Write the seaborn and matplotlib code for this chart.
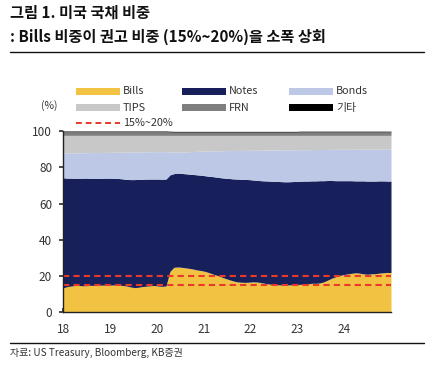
import numpy as np
import pandas as pd
import matplotlib
matplotlib.use("Agg")
import matplotlib.pyplot as plt
from matplotlib.patches import Rectangle
from matplotlib.lines import Line2D
import seaborn as sns

# monthly shares (%), Jan 2018 .. Dec 2024
bills = [13.5, 14.2, 14.5, 14.8, 14.8, 14.6, 14.7, 14.9, 14.8, 14.9, 15.0, 15.0,
         15.0, 15.1, 15.0, 14.8, 14.5, 14.0, 13.6, 13.8, 14.2, 14.4, 14.6, 14.8,
         14.5, 14.3, 14.5, 22.5, 24.8, 25.0, 24.8, 24.5, 24.2, 23.8, 23.3, 23.0,
         22.5, 21.8, 21.0, 20.3, 19.5, 18.7, 18.0, 17.3, 16.8, 16.6, 16.5, 16.6,
         16.8, 16.7, 16.4, 16.0, 15.6, 15.3, 15.2, 15.1, 15.0, 15.1, 15.2, 15.3,
         15.4, 15.5, 15.7, 16.0, 16.0, 16.2, 16.8, 17.8, 18.8, 19.6, 20.3, 20.8,
         21.2, 21.5, 21.8, 21.6, 21.2, 21.0, 21.2, 21.3, 21.6, 21.8, 22.0, 21.9]
notes = [60.7, 59.8, 59.5, 59.1, 59.1, 59.4, 59.3, 59.0, 59.0, 58.9, 58.9, 59.0,
         59.0, 58.8, 58.8, 58.8, 58.8, 59.2, 59.6, 59.5, 59.2, 59.1, 58.9, 58.7,
         59.0, 59.1, 59.0, 53.3, 51.7, 51.8, 51.8, 51.9, 52.0, 52.2, 52.5, 52.6,
         52.8, 53.2, 53.8, 54.2, 54.7, 55.3, 55.8, 56.3, 56.7, 56.8, 56.8, 56.6,
         56.2, 56.1, 56.2, 56.5, 56.8, 57.0, 57.0, 57.0, 57.0, 56.9, 56.9, 56.9,
         56.9, 56.9, 56.7, 56.5, 56.5, 56.4, 55.8, 54.9, 53.9, 53.0, 52.3, 51.8,
         51.4, 51.1, 50.7, 50.9, 51.3, 51.4, 51.2, 51.1, 50.9, 50.7, 50.4, 50.5]
bonds = [13.6, 13.8, 13.9, 14.0, 14.1, 14.0, 14.0, 14.2, 14.3, 14.3, 14.3, 14.2,
         14.2, 14.4, 14.5, 14.7, 15.1, 15.2, 15.2, 15.2, 15.1, 15.0, 15.1, 15.1,
         15.1, 15.2, 15.1, 12.6, 11.8, 11.5, 11.8, 12.1, 12.4, 12.7, 13.0, 13.3,
         13.7, 14.0, 14.3, 14.6, 14.9, 15.2, 15.4, 15.6, 15.8, 15.9, 16.0, 16.1,
         16.4, 16.6, 16.8, 17.0, 17.1, 17.2, 17.3, 17.5, 17.6, 17.6, 17.5, 17.4,
         17.4, 17.3, 17.3, 17.2, 17.3, 17.2, 17.2, 17.1, 17.2, 17.3, 17.3, 17.3,
         17.3, 17.3, 17.5, 17.5, 17.5, 17.6, 17.6, 17.6, 17.5, 17.5, 17.6, 17.6]
tips = [9.8, 9.8, 9.7, 9.7, 9.6, 9.6, 9.6, 9.5, 9.5, 9.5, 9.4, 9.4,
        9.4, 9.3, 9.3, 9.3, 9.2, 9.2, 9.2, 9.1, 9.1, 9.1, 9.0, 9.0,
        9.0, 9.0, 9.0, 9.2, 9.3, 9.3, 9.2, 9.1, 9.0, 8.9, 8.8, 8.7,
        8.6, 8.6, 8.5, 8.5, 8.5, 8.4, 8.4, 8.4, 8.3, 8.3, 8.3, 8.3,
        8.2, 8.2, 8.2, 8.1, 8.1, 8.1, 8.1, 8.0, 8.0, 8.0, 8.0, 8.0,
        7.9, 7.9, 7.9, 7.9, 7.8, 7.8, 7.8, 7.8, 7.7, 7.7, 7.7, 7.7,
        7.7, 7.7, 7.6, 7.6, 7.6, 7.6, 7.6, 7.6, 7.6, 7.6, 7.6, 7.6]
frn = [2.0, 2.0, 2.0, 2.0, 2.0, 2.0, 2.0, 2.0, 2.0, 2.0, 2.0, 2.0,
       2.0, 2.0, 2.0, 2.0, 2.0, 2.0, 2.0, 2.0, 2.0, 2.0, 2.0, 2.0,
       2.0, 2.0, 2.0, 1.9, 1.8, 1.8, 1.8, 1.8, 1.8, 1.8, 1.8, 1.8,
       1.8, 1.8, 1.8, 1.8, 1.8, 1.8, 1.8, 1.8, 1.8, 1.8, 1.8, 1.8,
       1.8, 1.8, 1.8, 1.8, 1.8, 1.8, 1.8, 1.8, 1.8, 1.8, 1.8, 1.8,
       1.9, 1.9, 1.9, 1.9, 1.9, 1.9, 1.9, 1.9, 1.9, 1.9, 1.9, 1.9,
       1.9, 1.9, 1.9, 1.9, 1.9, 1.9, 1.9, 1.9, 1.9, 1.9, 1.9, 1.9]
other = [0.4] * 84
band = [15, 20]
years = ["18", "19", "20", "21", "22", "23", "24"]

x = np.linspace(18, 25, len(bills))

sns.set_theme(style="ticks")
plt.rcParams["font.family"] = ["Noto Sans CJK KR", "DejaVu Sans"]

W, H = 435, 378
fig = plt.figure(figsize=(W / 100, H / 100), dpi=100)
ax = fig.add_axes([63.3 / W, 1 - 312.3 / H, (391 - 63.3) / W, (312.3 - 131) / H])

colors = ["#F2C343", "#17205A", "#BCC8E6", "#C8C8C8", "#7F7F7F", "#000000"]
names = ["Bills", "Notes", "Bonds", "TIPS", "FRN", "기타"]
ax.stackplot(x, bills, notes, bonds, tips, frn, other, colors=colors, linewidth=0)

red = "#E8392B"
for b in band:
    d = pd.DataFrame({"x": [18, 25], "y": [b, b]})
    sns.lineplot(data=d, x="x", y="y", ax=ax, color=red, lw=1.5,
                 dashes=False, linestyle=(0, (3, 2)))

ax.set_xlim(18, 25)
ax.set_ylim(0, 100)
ax.set_xticks(range(18, 25))
ax.set_xticklabels(years)
ax.set_yticks(range(0, 101, 20))
ax.set_xlabel("")
ax.set_ylabel("")
for s in ["top", "right"]:
    ax.spines[s].set_visible(False)
for s in ["left", "bottom"]:
    ax.spines[s].set_color("#222222")
    ax.spines[s].set_linewidth(1.0)
ax.tick_params(axis="x", direction="in", length=3, pad=8, labelsize=8.5, colors="#333333")
ax.tick_params(axis="y", direction="out", length=3, pad=5, labelsize=8.5, colors="#333333")
ax.grid(False)

# header / footer
def fx(px):
    return px / W

def fy(py):
    return 1 - py / H

fig.text(fx(10), fy(13), "그림 1. 미국 국채 비중", fontsize=11, fontweight="bold",
         va="center", ha="left", color="#111111")
fig.text(fx(10), fy(36.5), ": Bills 비중이 권고 비중 (15%~20%)을 소폭 상회", fontsize=11,
         fontweight="bold", va="center", ha="left", color="#111111")
fig.add_artist(Line2D([fx(10), fx(424)], [fy(52), fy(52)], color="#111111", lw=1.0))
fig.add_artist(Line2D([fx(10), fx(424)], [fy(343.3), fy(343.3)], color="#111111", lw=1.0))
fig.text(fx(10), fy(352.5), "자료: US Treasury, Bloomberg, KB증권", fontsize=7.2,
         va="center", ha="left", color="#333333")

# legend
fig.text(fx(49), fy(106), "(%)", fontsize=7.5, va="center", ha="center", color="#333333")
col_x = [76, 182, 289]
row_y = [91, 107.7]
for i, (name, c) in enumerate(zip(names, colors)):
    px = col_x[i % 3]
    py = row_y[i // 3]
    fig.add_artist(Rectangle((fx(px), fy(py + 3.5)), fx(44), 7 / H,
                             facecolor=c, edgecolor="none", transform=fig.transFigure))
    fig.text(fx(px + 47), fy(py), name, fontsize=7.8, va="center", ha="left", color="#333333")
fig.add_artist(Line2D([fx(76), fx(120)], [fy(123.3), fy(123.3)], color=red, lw=1.4,
                      linestyle=(0, (3, 2))))
fig.text(fx(123), fy(123.3), "15%~20%", fontsize=7.8, va="center", ha="left", color="#333333")

fig.savefig("out.png", dpi=100)
